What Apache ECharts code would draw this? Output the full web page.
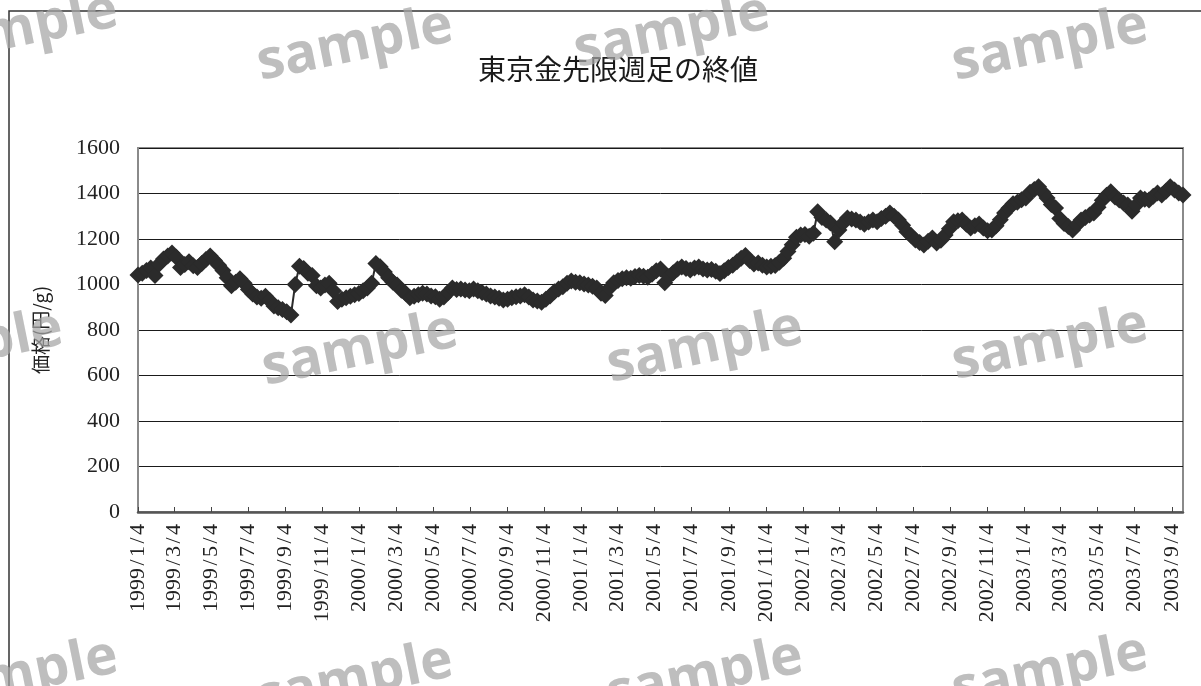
<!DOCTYPE html>
<html>
<head>
<meta charset="utf-8">
<script src="https://cdn.jsdelivr.net/npm/echarts@6/dist/echarts.min.js"></script>
<style>
  html, body { margin: 0; padding: 0; background: #fff; }
  #main { width: 1201px; height: 686px; }
</style>
</head>
<body>
<div id="main"></div>
<script>
// Weekly closing prices of the Tokyo gold futures (yen per gram), one value per week from 1999/1/4
const firstWeek = [1999, 1, 4];
const lastWeek = [2003, 9, 22];
const closes = [
  1042, 1050, 1062, 1072, 1040, 1090, 1112, 1125, 1138, 1120,
  1075, 1088, 1100, 1082, 1075, 1092, 1110, 1125, 1105, 1085,
  1062, 1030, 995, 1010, 1025, 1005, 978, 958, 945, 940,
  948, 930, 905, 898, 890, 880, 866, 1000, 1080, 1070,
  1050, 1040, 995, 985, 998, 1006, 972, 925, 935, 942,
  948, 955, 960, 972, 985, 1005, 1092, 1078, 1055, 1030,
  1010, 998, 975, 962, 942, 948, 955, 962, 958, 950,
  946, 935, 945, 965, 985, 978, 980, 976, 973, 980,
  972, 965, 958, 950, 945, 940, 932, 935, 942, 946,
  950, 955, 945, 932, 928, 922, 935, 950, 968, 980,
  990, 1005, 1015, 1010, 1008, 1002, 998, 992, 985, 962,
  952, 985, 1008, 1018, 1025, 1030, 1028, 1035, 1040, 1036,
  1032, 1045, 1060, 1068, 1008, 1035, 1052, 1068, 1077, 1070,
  1064, 1072, 1077, 1068, 1064, 1066, 1058, 1048, 1060, 1075,
  1085, 1100, 1115, 1127, 1105, 1090, 1094, 1085, 1077, 1080,
  1083, 1098, 1115, 1145, 1175, 1208, 1218, 1220, 1212, 1225,
  1320, 1295, 1284, 1270, 1188, 1240, 1270, 1292, 1288, 1284,
  1275, 1265, 1275, 1284, 1276, 1290, 1300, 1314, 1300, 1284,
  1260, 1232, 1215, 1196, 1185, 1174, 1190, 1204, 1182, 1195,
  1218, 1245, 1276, 1280, 1284, 1265, 1248, 1258, 1266, 1248,
  1236, 1240, 1258, 1285, 1314, 1335, 1355, 1362, 1372, 1380,
  1405, 1418, 1430, 1405, 1380, 1352, 1336, 1290, 1268, 1255,
  1240, 1262, 1284, 1295, 1305, 1314, 1340, 1370, 1392, 1408,
  1385, 1371, 1358, 1350, 1322, 1350, 1380, 1375, 1371, 1388,
  1402, 1393, 1410, 1430, 1415, 1402, 1393
];
// Dates shown under the horizontal axis
const tickDates = [
  '1999/1/4', '1999/3/4', '1999/5/4', '1999/7/4', '1999/9/4', '1999/11/4',
  '2000/1/4', '2000/3/4', '2000/5/4', '2000/7/4', '2000/9/4', '2000/11/4',
  '2001/1/4', '2001/3/4', '2001/5/4', '2001/7/4', '2001/9/4', '2001/11/4',
  '2002/1/4', '2002/3/4', '2002/5/4', '2002/7/4', '2002/9/4', '2002/11/4',
  '2003/1/4', '2003/3/4', '2003/5/4', '2003/7/4', '2003/9/4'
];
const yTicks = [0, 200, 400, 600, 800, 1000, 1200, 1400, 1600];
const titleText = '東京金先限週足の終値';
const yName = '価格(円/g)';
const stampText = 'sample';
const stampSpots = [
  [20, 30], [355, 45], [672, 32], [1050, 45],
  [-35, 348], [360, 350], [705, 347], [1050, 344],
  [20, 676], [355, 680], [705, 676], [1050, 672]
];

// The horizontal axis counts days from the first week (UTC keeps every day 24h long)
const DAY = 86400000;
const origin = Date.UTC(firstWeek[0], firstWeek[1] - 1, firstWeek[2]);
function dayIndex(y, m, d) {
  return Math.round((Date.UTC(y, m - 1, d) - origin) / DAY);
}
function dayLabel(n) {
  const d = new Date(origin + n * DAY);
  // slashes drawn in a half-em cell, like the digits
  return d.getUTCFullYear() + '{s|/}' + (d.getUTCMonth() + 1) + '{s|/}' + d.getUTCDate();
}
const lastDay = dayIndex(lastWeek[0], lastWeek[1], lastWeek[2]);
const seriesData = closes.map(function (v, i) { return [7 * i, v]; });
const tickDays = tickDates.map(function (s) {
  const p = s.split('/').map(Number);
  return dayIndex(p[0], p[1], p[2]);
});

const serif = '"Liberation Serif", "DejaVu Serif", serif';
const cjk = '"Noto Sans CJK JP", "Noto Sans", sans-serif';

const stamps = stampSpots.map(function (p) {
  return {
    type: 'text',
    x: p[0], y: p[1],
    rotation: 0.2,
    z: 100,
    silent: true,
    style: {
      text: stampText,
      fill: 'rgba(165,165,165,0.72)',
      font: 'bold 55px "Open Sans", "Noto Sans", sans-serif',
      textAlign: 'center',
      textVerticalAlign: 'middle'
    }
  };
});

const chart = echarts.init(document.getElementById('main'), null, { renderer: 'canvas' });
chart.setOption({
  animation: false,
  backgroundColor: '#ffffff',
  title: {
    text: titleText,
    left: 473,
    top: 50,
    textStyle: { fontFamily: cjk, fontSize: 28, fontWeight: 'normal', color: '#1a1a1a' }
  },
  grid: {
    left: 138, right: 18, top: 148, bottom: 174,
    show: true, borderColor: '#8a8a8a', borderWidth: 2, backgroundColor: 'transparent'
  },
  xAxis: {
    type: 'value',
    min: 0,
    max: lastDay,
    splitLine: { show: false },
    axisLine: { show: true, onZero: false, lineStyle: { color: '#555', width: 2.5 } },
    axisTick: {
      show: true, inside: true, length: 5,
      customValues: tickDays,
      lineStyle: { color: '#444', width: 1 }
    },
    axisLabel: {
      customValues: tickDays,
      rotate: 90,
      margin: 12,
      fontFamily: serif,
      fontSize: 22,
      color: '#222',
      formatter: function (val) { return dayLabel(val); },
      rich: {
        s: { width: 11, align: 'center', fontFamily: serif, fontSize: 22, color: '#222' }
      }
    }
  },
  yAxis: {
    type: 'value',
    min: yTicks[0],
    max: yTicks[yTicks.length - 1],
    interval: yTicks[1] - yTicks[0],
    name: yName,
    nameLocation: 'middle',
    nameRotate: 90,
    nameGap: 88,
    nameTextStyle: { fontFamily: cjk, fontSize: 19, color: '#222' },
    axisLine: { show: true, lineStyle: { color: '#8a8a8a', width: 2 } },
    axisTick: { show: false },
    axisLabel: {
      margin: 18, fontFamily: serif, fontSize: 22, color: '#222',
      formatter: function (v) { return String(v); }
    },
    splitLine: { show: true, lineStyle: { color: '#1a1a1a', width: 1 } }
  },
  series: [{
    type: 'line',
    data: seriesData,
    symbol: 'diamond',
    symbolSize: 17,
    showAllSymbol: true,
    itemStyle: { color: '#2b2b2b' },
    lineStyle: { color: '#2b2b2b', width: 2 },
    z: 3
  }],
  graphic: [{
    type: 'rect',
    shape: { x: 9, y: 11, width: 1220, height: 700 },
    silent: true,
    z: 0,
    style: { fill: 'none', stroke: '#333', lineWidth: 1.5 }
  }].concat(stamps)
});
</script>
</body>
</html>
